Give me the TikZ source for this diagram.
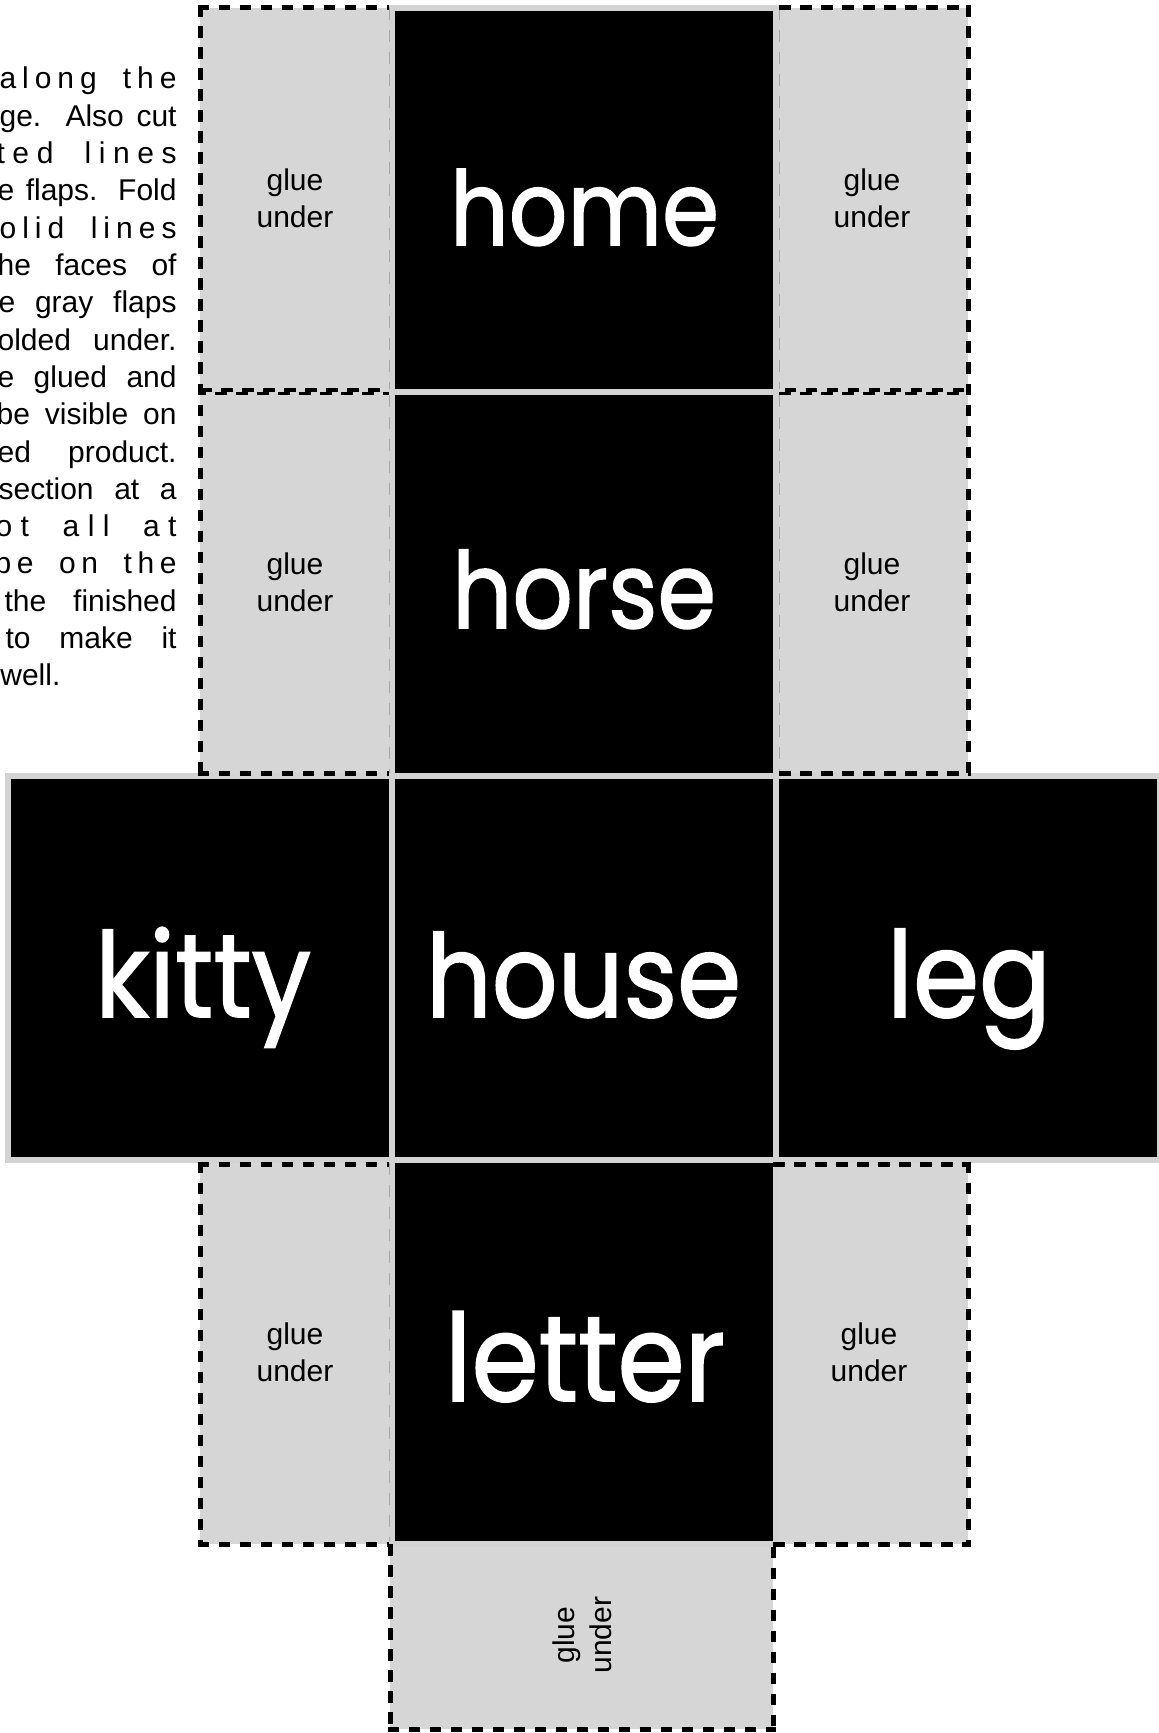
\documentclass[tikz,border=0pt]{standalone}
\usepackage{graphicx}
\usepackage{fontspec}
\setmainfont{Liberation Sans}
\newfontfamily\futfont{Poppins}[FakeBold=1.5]
\definecolor{flapgray}{HTML}{D6D6D6}
\definecolor{edgegray}{HTML}{D3D3D3}
\definecolor{foldgray}{HTML}{A6A6A6}
\newcommand\Lsp{\hskip 0pt plus 1fil\relax}
\newcommand\Wsp{\hskip 0.28em plus 3fil\relax}
\newcommand\bigw[2]{\scalebox{1}[1.12]{\resizebox{#1pt}{!}{\futfont #2}}}
\newcommand\pline[2]{\makebox[#1pt][s]{#2}}
\begin{document}
\begin{tikzpicture}[x=0.5pt,y=-0.5pt,
  sq/.style={draw=edgegray, fill=black, line width=3pt, minimum size=192pt, inner sep=0pt, outer sep=0pt},
  cutline/.style={line width=2.5pt, dash pattern=on 5.75pt off 4.75pt},
  thincut/.style={line width=1.75pt, dash pattern=on 5.75pt off 4.75pt},
  foldline/.style={draw=foldgray, line width=0.5pt, dash pattern=on 6pt off 5pt},
  gluetext/.style={font=\fontsize{15pt}{18.5pt}\selectfont, align=center, inner sep=0pt, text=black},
  bigword/.style={text=white, inner sep=0pt, anchor=base},
  para/.style={font=\fontsize{15pt}{18.65pt}\selectfont, inner sep=0pt, anchor=base east}]
\useasboundingbox (0,0) rectangle (1158,1733);

% flap fills
\fill[flapgray] (200,8) rectangle (392,392);
\fill[flapgray] (200,392) rectangle (392,776);
\fill[flapgray] (200,1163) rectangle (392,1544);
\fill[flapgray] (776,8) rectangle (968,392);
\fill[flapgray] (776,392) rectangle (968,776);
\fill[flapgray] (773,1163) rectangle (968,1544);
\fill[flapgray] (390,1541) rectangle (773,1729);

% faces
\node[sq] (sqhome) at (584,200) {};
\node[sq] (sqhorse) at (584,584) {};
\node[sq] (sqkitty) at (200,968) {};
\node[sq] (sqhouse) at (584,968) {};
\node[sq] (sqleg) at (968,968) {};
\node[sq] (sqletter) at (584,1352) {};

% fold lines
\draw[foldline] (389,8) -- (389,389);
\draw[foldline] (389,395) -- (389,773);
\draw[foldline] (389,1163) -- (389,1541);
\draw[foldline] (779,8) -- (779,389);
\draw[foldline] (779,395) -- (779,773);

% cut lines: upper left flaps
\draw[cutline] (197.5,8) -- (389,8);
\draw[cutline] (200,5.5) -- (200,776);
\draw[thincut] (200,390) -- (389,390);
\draw[thincut, dash phase=3pt] (200,393.5) -- (389,393.5);
\draw[cutline] (197.5,773.5) -- (389,773.5);
% upper right flaps
\draw[cutline] (779,8) -- (970.5,8);
\draw[cutline] (968,5.5) -- (968,776);
\draw[thincut, dash phase=7.75pt] (779,390) -- (970.5,390);
\draw[thincut] (779,393.5) -- (970.5,393.5);
\draw[cutline] (779,773.5) -- (970.5,773.5);
% lower left flap
\draw[cutline] (197.5,1164) -- (389,1164);
\draw[cutline] (200,1161.5) -- (200,1546.5);
\draw[cutline] (197.5,1544) -- (389,1544);
% lower right flap
\draw[cutline] (773,1164) -- (970.5,1164);
\draw[cutline] (968,1161.5) -- (968,1546.5);
\draw[cutline] (773,1544) -- (970.5,1544);
% bottom flap
\draw[cutline] (390,1544) -- (390,1731.5);
\draw[cutline] (387.5,1729) -- (775.5,1729);
\draw[cutline] (773,1546.5) -- (773,1729);

% glue texts
\node[gluetext] (g1) at (295,198) {glue\\under};
\node[gluetext] (g2) at (872,198) {glue\\under};
\node[gluetext] (g3) at (295,582) {glue\\under};
\node[gluetext] (g4) at (872,582) {glue\\under};
\node[gluetext] (g5) at (295,1352) {glue\\under};
\node[gluetext] (g6) at (869,1352) {glue\\under};
\node[gluetext, rotate=90] (g7) at (582,1635) {glue\\under};

% words
\node[bigword] (whome) at (584.5,245) {\bigw{134.5}{home}};
\node[bigword] (whorse) at (584,628) {\bigw{132}{horse}};
\node[bigword] (whouse) at (583.5,1017) {\bigw{157.5}{house}};
\node[bigword] (wkitty) at (203,1017) {\bigw{108}{kitty}};
\node[bigword] (wleg) at (969,1017) {\bigw{82}{leg}};
\node[bigword] (wletter) at (585,1401) {\bigw{140}{letter}};

% instructions paragraph (clipped at page edge)
\begin{scope}
\clip (0,0) rectangle (1158,1733);
\node[para] (p0) at (177,89) {\pline{88.5}{a\Lsp l\Lsp o\Lsp n\Lsp g\Wsp t\Lsp h\Lsp e}};
\node[para] (p1) at (177,126.3) {\pline{88.5}{ge. Also cut}};
\node[para] (p2) at (177,163.6) {\pline{90}{t\Lsp e\Lsp d\Wsp l\Lsp i\Lsp n\Lsp e\Lsp s}};
\node[para] (p3) at (177,200.9) {\pline{89.5}{e flaps. Fold}};
\node[para] (p4) at (177,238.2) {\pline{88.5}{o\Lsp l\Lsp i\Lsp d\Wsp l\Lsp i\Lsp n\Lsp e\Lsp s}};
\node[para] (p5) at (177,275.5) {\pline{89.5}{he faces of}};
\node[para] (p6) at (177,312.8) {\pline{89}{e gray flaps}};
\node[para] (p7) at (177,350.1) {\pline{89.5}{olded under.}};
\node[para] (p8) at (177,387.4) {\pline{89.5}{e glued and}};
\node[para] (p9) at (177,424.7) {\pline{90}{be visible on}};
\node[para] (p10) at (177,462) {\pline{89.5}{ed product.}};
\node[para] (p11) at (177,499.3) {\pline{89}{section at a}};
\node[para] (p12) at (177,536.6) {\pline{90.5}{o\Lsp t\Wsp a\Lsp l\Lsp l\Wsp a\Lsp t}};
\node[para] (p13) at (177,573.9) {\pline{91}{p\Lsp e\Wsp o\Lsp n\Wsp t\Lsp h\Lsp e}};
\node[para] (p14) at (177,611.2) {\pline{86}{the finished}};
\node[para] (p15) at (177,648.5) {\pline{85.5}{to make it}};
\node[para, anchor=base west] (p16) at (0,685.8) {well.};
\end{scope}
\end{tikzpicture}
\end{document}
